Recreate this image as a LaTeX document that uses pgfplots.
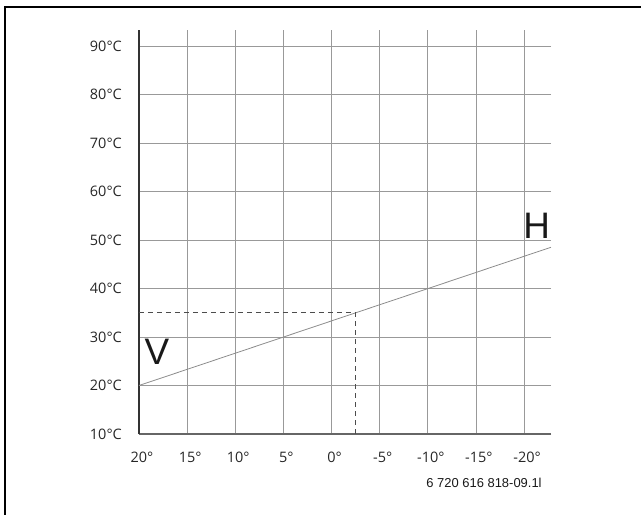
\documentclass[border=0pt]{standalone}
\usepackage{pgfplots}
\pgfplotsset{compat=1.18}
\usepackage{fontspec}
\setmainfont{Open Sans}
\newfontfamily\arial{Liberation Sans}
\begin{document}
\begin{tikzpicture}
\useasboundingbox (-139bp,-81bp) rectangle (502bp,434bp);
\draw[line width=2bp] (-134bp,-81bp) -- (-134bp,427bp) -- (503bp,427bp);
\begin{axis}[
  at={(0,0)}, anchor=south west,
  scale only axis, width=412bp, height=404bp,
  x dir=reverse, xmin=-22.8, xmax=20, ymin=10, ymax=93.3,
  axis x line*=bottom, axis y line*=left,
  x axis line style={-, draw=black!60, line width=1.6bp},
  y axis line style={-, draw=black!80, line width=1.5bp},
  xtick={20,15,10,5,0,-5,-10,-15,-20},
  xticklabels={20°,15°,10°,5°,0°,-5°,-10°,-15°,-20°},
  ytick={10,20,30,40,50,60,70,80,90},
  yticklabels={10°C,20°C,30°C,40°C,50°C,60°C,70°C,80°C,90°C},
  major tick length=0pt,
  grid=major, major grid style={black!40, line width=0.8bp},
  tick label style={font=\fontsize{14.5}{16}\selectfont, text=black!85},
  xticklabel style={anchor=north, inner sep=0pt, yshift=-18bp, xshift=3bp},
  yticklabel style={anchor=east, inner sep=0pt, xshift=-17bp},
  clip=false,
]
\addplot[black!45, line width=0.8bp] coordinates {(20,20) (-22.8,48.5)};
\addplot[black!70, line width=0.9bp, dash pattern=on 5bp off 4bp] coordinates {(20,35) (-2.5,35) (-2.5,10)};
\node[font=\arial\fontsize{37}{40}\selectfont, anchor=base, inner sep=0pt, text=black!90] at (axis cs:18.13,24.4) {V};
\node[font=\arial\fontsize{37}{40}\selectfont, anchor=base, inner sep=0pt, text=black!90] at (axis cs:-21.3,50.3) {H};
\end{axis}
\node[font=\arial\fontsize{13}{15}\selectfont, anchor=base, inner sep=0pt, text=black!90] at (345bp,-53bp) {6 720 616 818-09.1l};
\end{tikzpicture}
\end{document}
